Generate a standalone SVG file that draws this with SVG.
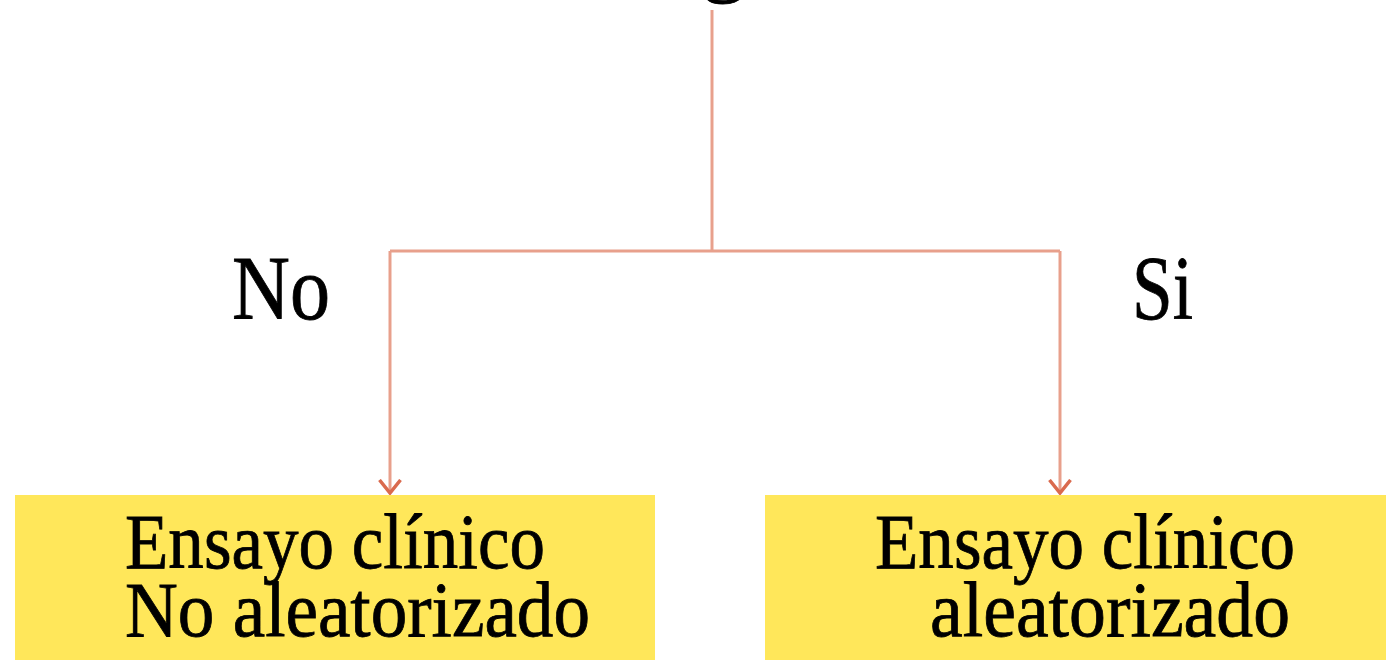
<svg xmlns="http://www.w3.org/2000/svg" width="1386" height="660" viewBox="0 0 1386 660">
<style>
.conn{fill:none;stroke:#E8A08C;stroke-width:3}
.box{fill:#FFE75A}
.t{font-family:"Liberation Serif","DejaVu Serif",serif;fill:#000;stroke:#000;stroke-width:0.8}
.big{font-size:90px}
.bt{font-size:78px}
</style>
<defs>
<marker id="arr" viewBox="0 0 16 24" refX="14" refY="12" markerWidth="16" markerHeight="24" markerUnits="userSpaceOnUse" orient="auto">
<path d="M1,1.5 L14,12 L1,22.5" fill="none" stroke="#DA6A4E" stroke-width="3.5"/>
</marker>
</defs>
<rect width="1386" height="660" fill="#fff"/>
<text class="t big" x="724" y="-15" text-anchor="middle">g</text>
<g id="connectors">
<path class="conn" d="M712,10 V251"/>
<path class="conn" d="M390,251 H1060"/>
<path class="conn" d="M390,251 V493" marker-end="url(#arr)"/>
<path class="conn" d="M1060,251 V493" marker-end="url(#arr)"/>
</g>
<g id="label-no"><text class="t big" x="232" y="319" textLength="98" lengthAdjust="spacingAndGlyphs">No</text></g>
<g id="label-si"><text class="t big" x="1132" y="319" textLength="61" lengthAdjust="spacingAndGlyphs">Si</text></g>
<g id="node-left">
<rect class="box" x="15" y="495" width="640" height="170"/>
<text class="t bt" x="125" y="568" textLength="420" lengthAdjust="spacingAndGlyphs">Ensayo clínico</text>
<text class="t bt" x="125" y="636" textLength="465" lengthAdjust="spacingAndGlyphs">No aleatorizado</text>
</g>
<g id="node-right">
<rect class="box" x="765" y="495" width="625" height="170"/>
<text class="t bt" x="875" y="568" textLength="420" lengthAdjust="spacingAndGlyphs">Ensayo clínico</text>
<text class="t bt" x="930" y="636" textLength="360" lengthAdjust="spacingAndGlyphs">aleatorizado</text>
</g>
</svg>
